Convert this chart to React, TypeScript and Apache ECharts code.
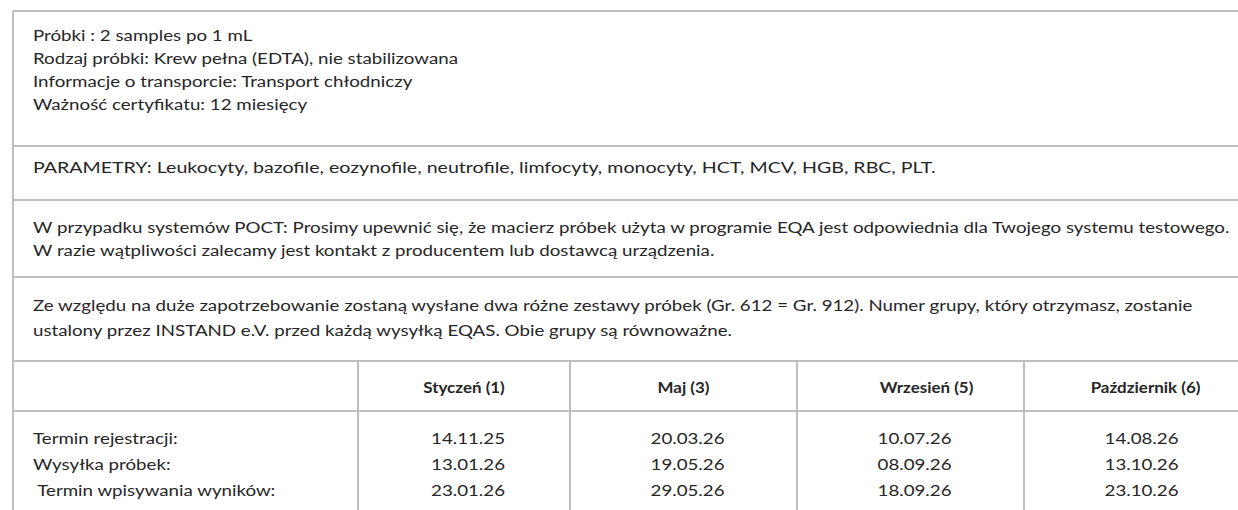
import React, { useEffect, useRef } from "react";
import * as echarts from "echarts";

const infoLines = [
  "Próbki : 2 samples po 1 mL",
  "Rodzaj próbki: Krew pełna (EDTA), nie stabilizowana",
  "Informacje o transporcie: Transport chłodniczy",
  "Ważność certyfikatu: 12 miesięcy",
];
const paramLines = [
  "PARAMETRY: Leukocyty, bazofile, eozynofile, neutrofile, limfocyty, monocyty, HCT, MCV, HGB, RBC, PLT.",
];
const poctLines = [
  "W przypadku systemów POCT: Prosimy upewnić się, że macierz próbek użyta w programie EQA jest odpowiednia dla Twojego systemu testowego.",
  "W razie wątpliwości zalecamy jest kontakt z producentem lub dostawcą urządzenia.",
];
const groupLines = [
  "Ze względu na duże zapotrzebowanie zostaną wysłane dwa różne zestawy próbek (Gr. 612 = Gr. 912). Numer grupy, który otrzymasz, zostanie",
  "ustalony przez INSTAND e.V. przed każdą wysyłką EQAS. Obie grupy są równoważne.",
];
const months = ["Styczeń (1)", "Maj (3)", "Wrzesień (5)", "Październik (6)"];
const rowLabels = ["Termin rejestracji:", "Wysyłka próbek:", " Termin wpisywania wyników:"];
const dates = [
  ["14.11.25", "13.01.26", "23.01.26"],
  ["20.03.26", "19.05.26", "29.05.26"],
  ["10.07.26", "08.09.26", "18.09.26"],
  ["14.08.26", "13.10.26", "23.10.26"],
];

const FONT = "Lato, 'Open Sans', sans-serif";
const TXT = "#262626";
const LINE = "#bfbfbf";

export default function App() {
  const ref = useRef<HTMLDivElement>(null);
  useEffect(() => {
    const chart = echarts.init(ref.current!, null, { renderer: "svg" });
    const W = 1238, H = 510;
    const left = 13, top = 11;
    const sepY = [146, 200, 277, 361, 411];
    const colX = [358, 570, 797, 1024, 1251];
    const headShift = [0, 0, 16, 8];
    const textX = 33;
    const g: any[] = [];
    const hline = (y: number) =>
      g.push({ type: "line", shape: { x1: left, y1: y, x2: W, y2: y }, style: { stroke: LINE, lineWidth: 2 } });
    const vline = (x: number, y1: number, y2: number) =>
      g.push({ type: "line", shape: { x1: x, y1, x2: x, y2 }, style: { stroke: LINE, lineWidth: 2 } });
    const txt = (s: string, x: number, y: number, opts: any = {}) =>
      g.push({
        type: "text",
        x,
        y,
        scaleX: opts.sx || 1.17,
        style: {
          text: s,
          fill: TXT,
          font: `${opts.bold ? "bold " : ""}${opts.size || 16}px ${FONT}`,
          textAlign: opts.align || "left",
          textVerticalAlign: "middle",
        },
      });
    hline(top);
    vline(left, top, H);
    sepY.forEach(hline);
    colX.slice(0, 4).forEach((x) => vline(x, sepY[3], H));

    infoLines.forEach((s, i) => txt(s, textX, 35 + i * 23));
    paramLines.forEach((s, i) => txt(s, textX, 167 + i * 23, { sx: 1.225 }));
    poctLines.forEach((s, i) => txt(s, textX, 227 + i * 23));
    groupLines.forEach((s, i) => txt(s, textX, 305 + i * 25));
    months.forEach((m, i) =>
      txt(m, (colX[i] + colX[i + 1]) / 2 + headShift[i], 387, { bold: true, size: 15, sx: 1.13, align: "center" })
    );
    rowLabels.forEach((s, i) => txt(s, textX, 438 + i * 26));
    dates.forEach((col, ci) =>
      col.forEach((d, ri) => txt(d, (colX[ci] + colX[ci + 1]) / 2 + 4, 438 + ri * 26, { align: "center" }))
    );

    chart.setOption({ animation: false, graphic: { elements: g } });
    return () => chart.dispose();
  }, []);
  return <div ref={ref} style={{ position: "fixed", left: 0, top: 0, width: 1238, height: 510, background: "#fff" }} />;
}
